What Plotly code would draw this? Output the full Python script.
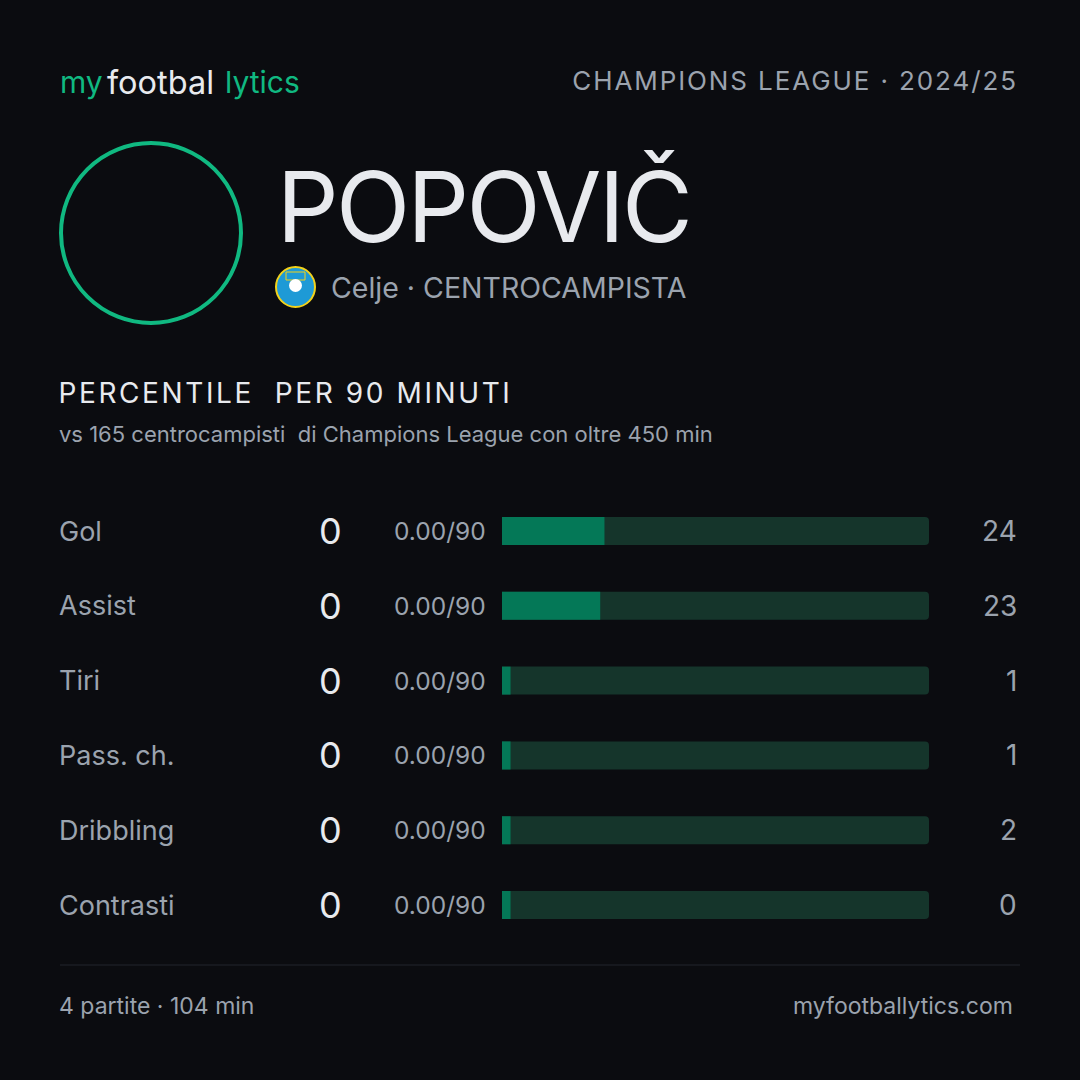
import json
import plotly.graph_objects as go

# stat rows
metrics = ["Gol", "Assist", "Tiri", "Pass. ch.", "Dribbling", "Contrasti"]
raw_values = [0, 0, 0, 0, 0, 0]
per90 = ["0.00/90", "0.00/90", "0.00/90", "0.00/90", "0.00/90", "0.00/90"]
percentiles = [24, 23, 1, 1, 2, 0]

player = "POPOVIČ"
club_line = "Celje · CENTROCAMPISTA"
competition = "CHAMPIONS LEAGUE · 2024/25"
section_title = "PERCENTILE\u00a0\u00a0PER 90 MINUTI"
section_sub = "vs 165 centrocampisti\u00a0\u00a0di Champions League con oltre 450 min"
footer_left = "4 partite · 104 min"
footer_right = "myfootballytics.com"

BG = "#0b0c10"
GREEN = "#10b981"
FILL = "#047857"
TRACK = "#15352b"
WHITE = "#e8eaee"
GREY = "#9ba3ae"
FONT = "Inter"

W = H = 1080
MIN_SHOW = 2  # smallest visible stub on the bar

rows = list(range(len(metrics)))
shown = [max(p, MIN_SHOW) for p in percentiles]

fig = go.Figure()
fig.add_trace(go.Bar(y=rows, x=[100] * len(rows), orientation="h",
                     marker=dict(color=TRACK, line=dict(width=0)),
                     width=0.374, hoverinfo="skip", showlegend=False))
fig.add_trace(go.Bar(y=rows, x=shown, orientation="h",
                     marker=dict(color=FILL, line=dict(width=0)),
                     width=0.374, hoverinfo="skip", showlegend=False))

ann = []


def txt(x, y, s, size, color, anchor="left", yref="paper"):
    ann.append(dict(x=x, y=y, xref="paper", yref=yref,
                    text=s, showarrow=False, xanchor=anchor, yanchor="middle",
                    font=dict(family=FONT, size=size, color=color)))


def px(v):
    return v / W


def py(v):
    return 1 - v / H


# header
txt(px(58), py(82), "my", 30, GREEN)
txt(px(105), py(82), "footbal", 32.5, WHITE)
txt(px(223), py(82), "lytics", 30, GREEN)
txt(px(795), py(81), competition, 26, GREY, anchor="center")

# player
txt(px(483), py(206), player, 97, WHITE, anchor="center")
txt(px(329), py(288), club_line, 28.5, GREY)

# section
txt(px(285), py(393), section_title, 28, WHITE, anchor="center")
txt(px(57), py(434), section_sub, 22, GREY)

# rows
for i, m in enumerate(metrics):
    txt(px(57), i, m, 27, GREY, yref="y")
    txt(px(330), i, str(raw_values[i]), 36, WHITE, anchor="center", yref="y")
    txt(px(488), i, per90[i], 24.5, GREY, anchor="right", yref="y")
    txt(px(1019), i, str(percentiles[i]), 28, GREY, anchor="right", yref="y")

# footer
txt(px(57), py(1006), footer_left, 23, GREY)
txt(px(1015), py(1006), footer_right, 23, GREY, anchor="right")

shapes = [
    dict(type="circle", xref="paper", yref="paper",
         x0=px(61), x1=px(241), y0=py(143), y1=py(323),
         line=dict(color=GREEN, width=4)),
    # club crest (simplified)
    dict(type="circle", xref="paper", yref="paper",
         x0=px(276), x1=px(315), y0=py(267), y1=py(307),
         fillcolor="#1e9ad6", line=dict(color="#f2d21b", width=2)),
    dict(type="rect", xref="paper", yref="paper",
         x0=px(286), x1=px(305), y0=py(272), y1=py(280),
         fillcolor="rgba(0,0,0,0)", line=dict(color="#f2d21b", width=1)),
    dict(type="circle", xref="paper", yref="paper",
         x0=px(289), x1=px(302), y0=py(279), y1=py(292),
         fillcolor="#ffffff", line=dict(width=0)),
    dict(type="line", xref="paper", yref="paper",
         x0=px(60), x1=px(1020), y0=py(965), y1=py(965),
         line=dict(color="#22252c", width=1)),
]

fig.update_layout(
    width=W, height=H,
    margin=dict(l=0, r=0, t=0, b=0),
    paper_bgcolor=BG, plot_bgcolor=BG,
    barmode="overlay", barcornerradius=4,
    xaxis=dict(domain=[502 / W, 929 / W], range=[0, 100], visible=False, fixedrange=True),
    yaxis=dict(domain=[1 - 942.4 / H, 1 - 493.6 / H], range=[5.5, -0.5],
               visible=False, fixedrange=True),
    annotations=ann, shapes=shapes,
    showlegend=False,
)

# letter spacing for the tracked / tight headings (px)
spacing = {competition: 1.9, section_title: 2.6, player: -2.8}

js = """
document.body.style.margin = '0';
document.body.style.background = '%s';
var gd = document.getElementById('{plot_id}');
var sp = %s;
gd.querySelectorAll('.annotation-text').forEach(function (t) {
  var ls = sp[t.textContent];
  if (ls !== undefined) { t.style.letterSpacing = ls + 'px'; }
});
""" % (BG, json.dumps(spacing, ensure_ascii=False))

fig.write_html("out.html", post_script=js, config={"displayModeBar": False})
